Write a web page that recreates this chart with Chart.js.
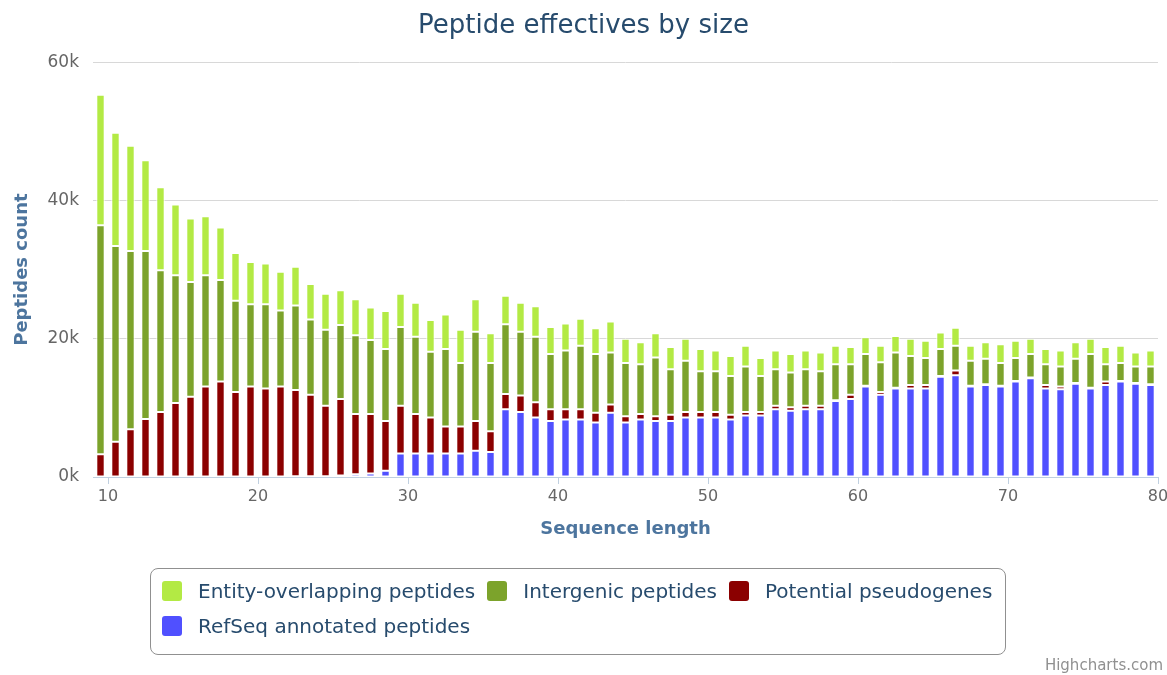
<!DOCTYPE html>
<html>
<head>
<meta charset="utf-8">
<script src="https://cdn.jsdelivr.net/npm/chart.js@4.4.1/dist/chart.umd.min.js"></script>
<style>
  html, body { margin: 0; padding: 0; background: #fff; }
  #wrap { position: relative; width: 1167px; height: 675px; }
  #legend {
    position: absolute; left: 150px; top: 568px; width: 856px; height: 87px;
    box-sizing: border-box; border: 1.5px solid #909090; border-radius: 8px;
    padding: 4px 0 0 11px; font-family: 'DejaVu Sans'; font-size: 20px; color: #274b6d;
  }
  .item { display: inline-flex; align-items: center; height: 35px; margin-right: 12px; white-space: nowrap; cursor: pointer; }
  .swatch { width: 20px; height: 20px; border-radius: 3px; margin-right: 16px; }
  #credit { position: absolute; right: 4px; top: 656px; font: 15px 'DejaVu Sans'; color: #909090; }
</style>
</head>
<body>
<div id="wrap">
  <canvas id="chart" width="1167" height="675"></canvas>
  <div id="legend"></div>
  <div id="credit">Highcharts.com</div>
</div>
<script>
// sequence lengths 10..80
const sizes = [10,11,12,13,14,15,16,17,18,19,20,21,22,23,24,25,26,27,28,29,30,31,32,33,34,35,36,37,38,39,40,41,42,43,44,45,
  46,47,48,49,50,51,52,53,54,55,56,57,58,59,60,61,62,63,64,65,66,67,68,69,70,71,72,73,74,75,76,77,78,79,80];
const xTicks = [10, 20, 30, 40, 50, 60, 70, 80];
const yTicks = [0, 20000, 40000, 60000];

// values per stack segment (peptide counts)
const refseq = [0,0,0,0,0,0,0,0,0,0,0,0,0,100,100,100,200,400,500,900,3400,3400,3400,3400,3400,3800,3600,9800,9400,8600,8100,8300,8300,7900,9300,7900,
  8300,8100,8100,8600,8600,8600,8300,8900,8900,9800,9600,9800,9800,11000,11300,13100,11900,12800,12800,12800,14500,14700,13100,13300,13100,13800,14300,12800,12700,13500,12800,13300,13800,13500,13300];
const pseudo = [3300,5100,6900,8400,9400,10700,11600,13100,13800,12300,13100,12800,13100,12500,11800,10200,11100,8700,8600,7200,6900,5700,5200,3900,3900,4300,3000,2200,2400,2200,1700,1500,1500,1400,1200,900,
  800,700,900,800,800,800,700,500,500,500,500,500,500,100,600,100,400,100,500,500,100,700,100,100,100,100,100,500,400,100,100,500,100,100,100];
const intergenic = [33100,28300,25800,24300,20500,18500,16600,16100,14700,13200,11900,12200,11000,12200,10900,11000,10700,11400,10700,10400,11400,11200,9500,11200,9200,12900,9900,10100,9200,9500,8000,8500,9200,8500,7500,7700,
  7200,8500,6600,7400,5900,5900,5600,6600,5200,5300,5000,5300,5000,5200,4400,4600,4300,5100,4200,3900,3900,3600,3600,3700,3300,3300,3400,3000,2900,3500,4900,2500,2600,2400,2600];
const entity = [18900,16400,15200,13100,12000,10200,9200,8500,7600,6900,6100,5900,5600,5600,5100,5200,5000,5200,4700,5500,4800,4900,4600,5000,4800,4700,4300,4100,4200,4400,3900,3900,3900,3700,4500,3500,
  3200,3500,3200,3200,3200,3000,2900,3000,2600,2700,2700,2700,2700,2700,2500,2400,2400,2400,2500,2500,2400,2600,2200,2400,2700,2500,2200,2200,2300,2400,2200,2500,2500,2000,2300];

const series = [
  { label: 'RefSeq annotated peptides', data: refseq, color: '#5050ff' },
  { label: 'Potential pseudogenes', data: pseudo, color: '#8b0000' },
  { label: 'Intergenic peptides', data: intergenic, color: '#7ca32b' },
  { label: 'Entity-overlapping peptides', data: entity, color: '#b3ea44' }
];

const font = 'DejaVu Sans';
const axisTitleColor = '#4d759e';
const labelColor = '#666666';

function axis_title(text) {
  return { display: true, text: text, color: axisTitleColor, font: { family: font, size: 18, weight: 'bold' } };
}

const data = {
  labels: sizes,
  datasets: series.map(s => ({
    label: s.label, data: s.data, backgroundColor: s.color,
    borderColor: '#ffffff', borderWidth: 1, borderSkipped: false,
    categoryPercentage: 1, barPercentage: 0.56
  }))
};

const options = {
  responsive: false,
  animation: false,
  layout: { padding: { left: 0, right: 0, top: 0, bottom: 130 } },
  scales: {
    x: { display: false, stacked: true, offset: true },
    // visible length axis, bars sit on the hidden category axis above
    x2: {
      type: 'linear', position: 'bottom', min: 9, max: 80, offset: false,
      afterBuildTicks: scale => { scale.ticks = xTicks.map(v => ({ value: v })); },
      afterFit: scale => { scale.height = 68; scale.paddingRight = 9; scale.paddingLeft = 0; },
      grid: { drawOnChartArea: false, offset: false, color: '#c0d0e0', tickLength: 7 },
      border: { color: '#c0d0e0' },
      ticks: { color: labelColor, font: { family: font, size: 16 }, padding: 3, maxRotation: 0 },
      title: Object.assign(axis_title('Sequence length'), { padding: { top: 0, bottom: 5 } })
    },
    y: {
      stacked: true, min: 0, max: 60000,
      afterBuildTicks: scale => { scale.ticks = yTicks.map(v => ({ value: v })); },
      afterFit: scale => { scale.width = 93; },
      grid: { color: '#d8d8d8', drawTicks: false },
      border: { display: false },
      ticks: { color: labelColor, font: { family: font, size: 17 }, padding: 14, callback: v => (v / 1000) + 'k' },
      title: Object.assign(axis_title('Peptides count'), { padding: { top: 12, bottom: 0 } })
    }
  },
  plugins: {
    legend: { display: false },
    title: {
      display: true, text: 'Peptide effectives by size', color: '#274b6d',
      font: { family: font, size: 26, weight: 'normal' },
      padding: { top: 11, bottom: 20 }
    }
  }
};

const chart = new Chart(document.getElementById('chart'), { type: 'bar', data: data, options: options });

// HTML legend, top series first like the stack
const legend = document.getElementById('legend');
series.slice().reverse().forEach(s => {
  const idx = series.indexOf(s);
  const item = document.createElement('span');
  item.className = 'item';
  item.innerHTML = '<span class="swatch" style="background:' + s.color + '"></span>' + s.label;
  item.onclick = () => {
    const vis = chart.isDatasetVisible(idx);
    chart.setDatasetVisibility(idx, !vis);
    item.style.opacity = vis ? 0.4 : 1;
    chart.update();
  };
  legend.appendChild(item);
});
</script>
</body>
</html>
